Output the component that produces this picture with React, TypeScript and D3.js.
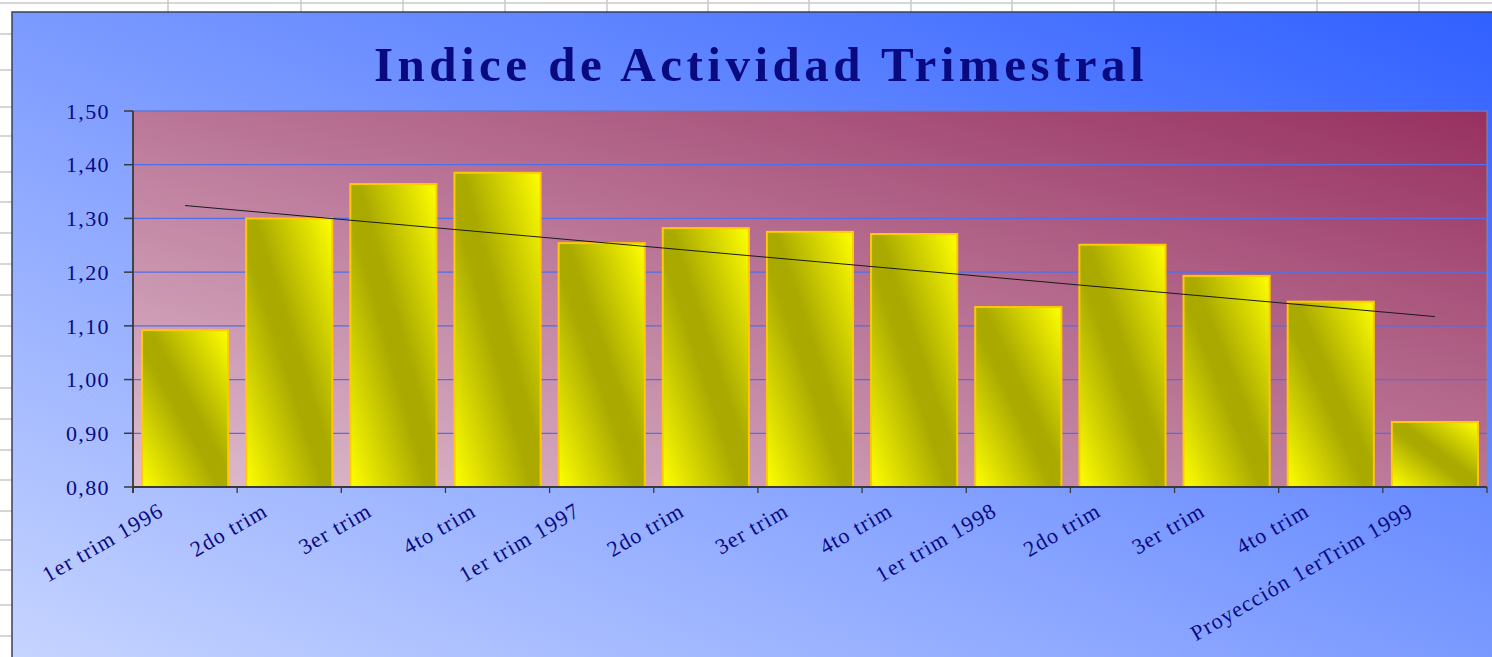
import React from "react";
import * as d3 from "d3";

const categories = [
  "1er trim 1996", "2do trim", "3er trim", "4to trim",
  "1er trim 1997", "2do trim", "3er trim", "4to trim",
  "1er trim 1998", "2do trim", "3er trim", "4to trim",
  "Proyección 1erTrim 1999",
];
const values = [1.092, 1.300, 1.364, 1.385, 1.254, 1.282, 1.275, 1.271, 1.135, 1.251, 1.193, 1.145, 0.921];
const yTicks = [0.8, 0.9, 1.0, 1.1, 1.2, 1.3, 1.4, 1.5];
const title = "Indice de Actividad Trimestral";

// spreadsheet decoration (background grid behind the chart object)
const sheetCols = [168, 301, 403, 505, 607, 708, 809, 911, 1012, 1114, 1216, 1317, 1419];
const sheetRows = [3, 34, 70, 107, 136, 172, 202, 233, 264, 295, 326, 356, 388, 419, 450, 480, 511, 540, 570, 605, 636];

const W = 1492, H = 657;
const plot = { left: 133, right: 1487, top: 111, bottom: 487 };

export default function App() {
  const x = d3.scaleBand<number>()
    .domain(categories.map((_, i) => i))
    .range([plot.left, plot.right])
    .paddingInner(0.173)
    .paddingOuter(0.0865);
  const y = d3.scaleLinear().domain([0.8, 1.5]).range([plot.bottom, plot.top]);
  const step = x.step();
  const center = (i: number) => (x(i) as number) + x.bandwidth() / 2;

  // linear trend (least squares)
  const n = values.length;
  const xs = values.map((_, i) => i + 1);
  const mx = d3.mean(xs) as number;
  const my = d3.mean(values) as number;
  const slope = d3.sum(xs.map((xi, i) => (xi - mx) * (values[i] - my))) / d3.sum(xs.map((xi) => (xi - mx) ** 2));
  const icpt = my - slope * mx;
  const trendPts: [number, number][] = [0, n - 1].map((i) => [center(i), y(icpt + slope * (i + 1))]);
  const line = d3.line();

  const fmt = (v: number) => v.toFixed(2).replace(".", ",");
  const navy = "#0a0a80";
  const serif = "'Liberation Serif', 'Times New Roman', serif";

  return (
    <svg width={W} height={H} style={{ position: "absolute", left: 0, top: 0, display: "block" }}>
      <defs>
        <linearGradient id="chartBg" x1="0" y1="1" x2="1" y2="0">
          <stop offset="0" stopColor="#C6D4FF" />
          <stop offset="1" stopColor="#3060FF" />
        </linearGradient>
        <linearGradient id="plotBg" x1="0" y1="1" x2="1" y2="0">
          <stop offset="0" stopColor="#DEBDCE" />
          <stop offset="1" stopColor="#973060" />
        </linearGradient>
        <linearGradient id="barFill" x1="0" y1="1" x2="1" y2="0">
          <stop offset="0" stopColor="#FFFF00" />
          <stop offset="0.45" stopColor="#A9A900" />
          <stop offset="0.55" stopColor="#A9A900" />
          <stop offset="1" stopColor="#FFFF00" />
        </linearGradient>
      </defs>

      {/* spreadsheet background */}
      <rect x={0} y={0} width={W} height={H} fill="#ffffff" />
      {sheetCols.map((c, i) => (
        <line key={"c" + i} x1={c} x2={c} y1={0} y2={12} stroke="#c8c8c8" strokeWidth={1.5} />
      ))}
      {sheetRows.map((r, i) => (
        <line key={"r" + i} x1={0} x2={r === 3 ? W : 12} y1={r} y2={r} stroke="#c8c8c8" strokeWidth={1.5} />
      ))}

      {/* chart area */}
      <rect x={12} y={12} width={W - 12 + 2} height={H - 12 + 2} fill="url(#chartBg)" stroke="#3a4058" strokeWidth={1.5} />

      <text x={761} y={81} textAnchor="middle" fontFamily={serif} fontWeight="bold" fontSize={49}
        letterSpacing={4.5} fill={navy}>{title}</text>

      {/* plot area */}
      <rect x={plot.left} y={plot.top} width={plot.right - plot.left} height={plot.bottom - plot.top}
        fill="url(#plotBg)" stroke="#8a8a9a" strokeWidth={1} />

      {yTicks.slice(1).map((t) => (
        <line key={"g" + t} x1={plot.left} x2={plot.right} y1={y(t)} y2={y(t)} stroke="#4f6fe8" strokeWidth={1.2} />
      ))}

      {values.map((v, i) => (
        <rect key={"b" + i} x={x(i)} y={y(v)} width={x.bandwidth()} height={y(0.8) - y(v)}
          fill="url(#barFill)" stroke="#FFC800" strokeWidth={2} />
      ))}

      <path d={line(trendPts) as string} fill="none" stroke="#1a1a1a" strokeWidth={1} />

      {/* axes */}
      <line x1={plot.left} x2={plot.left} y1={plot.top} y2={plot.bottom + 6} stroke="#3a3a3a" strokeWidth={1.8} />
      <line x1={plot.left} x2={plot.right} y1={plot.bottom} y2={plot.bottom} stroke="#3a3a3a" strokeWidth={1.8} />
      {yTicks.map((t) => (
        <g key={"yt" + t}>
          <line x1={plot.left - 9} x2={plot.left} y1={y(t)} y2={y(t)} stroke="#3a3a3a" strokeWidth={1.5} />
          <text x={110} y={y(t)} dy="0.35em" textAnchor="end" fontFamily={serif} fontSize={22}
            letterSpacing={1.4} fill={navy}>{fmt(t)}</text>
        </g>
      ))}
      {d3.range(n + 1).map((k) => (
        <line key={"xt" + k} x1={plot.left + k * step} x2={plot.left + k * step} y1={plot.bottom}
          y2={plot.bottom + 6} stroke="#3a3a3a" strokeWidth={1.3} />
      ))}
      {categories.map((c, i) => {
        const px = center(i) - 20;
        const py = 515;
        return (
          <text key={"xl" + i} x={px} y={py} textAnchor="end" transform={`rotate(-30 ${px} ${py})`}
            fontFamily={serif} fontSize={22} letterSpacing={1.2} fill={navy}>{c}</text>
        );
      })}
    </svg>
  );
}
